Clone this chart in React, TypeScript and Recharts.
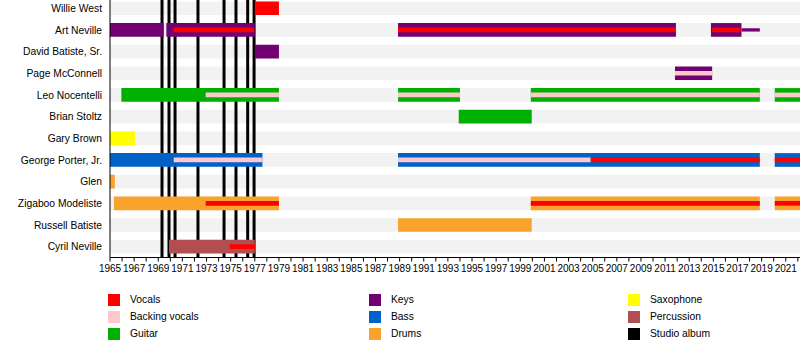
import { ComposedChart, XAxis, YAxis, ReferenceArea, ReferenceLine } from 'recharts';

const members = [
  'Willie West',
  'Art Neville',
  'David Batiste, Sr.',
  'Page McConnell',
  'Leo Nocentelli',
  'Brian Stoltz',
  'Gary Brown',
  'George Porter, Jr.',
  'Glen',
  'Zigaboo Modeliste',
  'Russell Batiste',
  'Cyril Neville',
];

const roleColors: Record<string, string> = {
  vocals: '#ff0000',
  backing: '#ffc8cc',
  guitar: '#00b000',
  keys: '#720072',
  bass: '#0062c8',
  drums: '#f9a22c',
  saxophone: '#ffff00',
  percussion: '#b04e52',
  album: '#000000',
};

const legendColumns = [
  [['vocals', 'Vocals'], ['backing', 'Backing vocals'], ['guitar', 'Guitar']],
  [['keys', 'Keys'], ['bass', 'Bass'], ['drums', 'Drums']],
  [['saxophone', 'Saxophone'], ['percussion', 'Percussion'], ['album', 'Studio album']],
];

const START = 1965;
const END = 2022.18;

// [member, role, from, to]
const mainBars: [string, string, number, number][] = [
  ['Willie West', 'vocals', 1977, 1979],
  ['Art Neville', 'keys', 1965, 1969.45],
  ['Art Neville', 'keys', 1969.67, 1977],
  ['Art Neville', 'keys', 1988.87, 2011.9],
  ['Art Neville', 'keys', 2014.8, 2017.33],
  ['David Batiste, Sr.', 'keys', 1977, 1979],
  ['Page McConnell', 'keys', 2011.82, 2014.9],
  ['Leo Nocentelli', 'guitar', 1965.94, 1979],
  ['Leo Nocentelli', 'guitar', 1988.87, 1994],
  ['Leo Nocentelli', 'guitar', 1999.87, 2018.85],
  ['Leo Nocentelli', 'guitar', 2020.09, END],
  ['Brian Stoltz', 'guitar', 1993.9, 1999.95],
  ['Gary Brown', 'saxophone', 1965, 1967.07],
  ['George Porter, Jr.', 'bass', 1965, 1977.63],
  ['George Porter, Jr.', 'bass', 1988.87, 2018.85],
  ['George Porter, Jr.', 'bass', 2020.09, END],
  ['Glen', 'drums', 1965, 1965.4],
  ['Zigaboo Modeliste', 'drums', 1965.33, 1979],
  ['Zigaboo Modeliste', 'drums', 1999.87, 2018.85],
  ['Zigaboo Modeliste', 'drums', 2020.09, END],
  ['Russell Batiste', 'drums', 1988.87, 1999.95],
  ['Cyril Neville', 'percussion', 1969.89, 1977],
];

// secondary roles, drawn as a thin strip through the middle of the bar
const stripBars: [string, string, number, number][] = [
  ['Art Neville', 'vocals', 1970.28, 1976.94],
  ['Art Neville', 'vocals', 1988.87, 2011.9],
  ['Art Neville', 'vocals', 2014.9, 2017.25],
  ['Page McConnell', 'backing', 2011.82, 2014.9],
  ['Leo Nocentelli', 'backing', 1972.93, 1979],
  ['Leo Nocentelli', 'backing', 1988.87, 1994],
  ['Leo Nocentelli', 'backing', 1999.87, 2018.85],
  ['Leo Nocentelli', 'backing', 2020.09, END],
  ['George Porter, Jr.', 'backing', 1970.28, 1977.63],
  ['George Porter, Jr.', 'backing', 1988.87, 2004.84],
  ['George Porter, Jr.', 'vocals', 2004.84, 2018.85],
  ['George Porter, Jr.', 'vocals', 2020.09, END],
  ['Zigaboo Modeliste', 'vocals', 1972.93, 1979],
  ['Zigaboo Modeliste', 'vocals', 1999.87, 2018.85],
  ['Zigaboo Modeliste', 'vocals', 2020.09, END],
  ['Cyril Neville', 'vocals', 1974.92, 1977],
];

const thinBars: [string, string, number, number][] = [
  ['Art Neville', 'keys', 2017.33, 2018.85],
];

const albums = [1969.31, 1969.89, 1970.39, 1972.29, 1974.45, 1975.44, 1976.41, 1976.94];

const tickYears = Array.from({ length: 2022 - 1965 + 1 }, (_, i) => 1965 + i);

const rows = members.map((name, i) => ({ name, row: i }));

const MAIN_H = 0.316;
const STRIP_H = 0.108;
const THIN_H = 0.076;

const font = '"Liberation Sans", Arial, sans-serif';

// the page comes with the default 8px body margin
document.body.style.margin = '0';
document.documentElement.style.overflow = 'hidden';

const YearTick = ({ x, y, payload }: any) => {
  const year = payload.value;
  if (year % 2 === 0) return null;
  return (
    <text x={x} y={y} dy={8} textAnchor="middle" fontSize={10} fill="#000" fontFamily={font}>
      {year}
    </text>
  );
};

const MemberTick = ({ x, y, payload }: any) => (
  <text x={x} y={y} dy={3.6} textAnchor="end" fontSize={10.3} fill="#000" fontFamily={font}>
    {members[payload.value] ?? ''}
  </text>
);

const App = () => {
  const rowOf = (name: string) => members.indexOf(name);

  const drawBars = (list: [string, string, number, number][], half: number, z: number, key: string) =>
    list.map(([m, role, from, to], i) => (
      <ReferenceArea
        key={`${key}-${i}`}
        x1={from}
        x2={to}
        y1={rowOf(m) - half}
        y2={rowOf(m) + half}
        fill={roleColors[role]}
        fillOpacity={1}
        stroke="none"
        ifOverflow="visible"
        zIndex={z}
      />
    ));

  return (
    <div style={{ position: 'relative', width: 800, height: 353, fontFamily: font, background: '#fff', overflow: 'hidden' }}>
      <ComposedChart width={800} height={353} data={rows} margin={{ top: 0, right: 0, bottom: 65.5, left: 0 }}>
        <XAxis
          type="number"
          dataKey="row"
          domain={[START, END]}
          ticks={tickYears}
          interval={0}
          allowDataOverflow
          tick={<YearTick />}
          tickSize={4}
          stroke="#000"
          height={30}
        />
        <YAxis
          type="number"
          dataKey="row"
          domain={[-0.38, 11.5]}
          reversed
          ticks={members.map((_, i) => i)}
          interval={0}
          allowDataOverflow
          tick={<MemberTick />}
          tickLine={false}
          stroke="#000"
          width={110}
        />
        {members.map((m, i) => (
          <ReferenceArea
            key={`band-${m}`}
            x1={START}
            x2={END}
            y1={i - MAIN_H}
            y2={i + MAIN_H}
            fill="#f2f2f2"
            fillOpacity={1}
            stroke="none"
            ifOverflow="visible"
            zIndex={1}
          />
        ))}
        {albums.map((a) => (
          <ReferenceLine key={`album-${a}`} x={a} stroke="#000" strokeWidth={3} ifOverflow="visible" zIndex={2} />
        ))}
        {drawBars(mainBars, MAIN_H, 3, 'main')}
        {drawBars(thinBars, THIN_H, 3, 'thin')}
        {drawBars(stripBars, STRIP_H, 4, 'strip')}
      </ComposedChart>

      {legendColumns.map((col, c) =>
        col.map(([role, label], r) => (
          <div
            key={role}
            style={{
              position: 'absolute',
              left: [108, 369, 628][c],
              top: 294 + r * 17,
              display: 'flex',
              alignItems: 'center',
              fontSize: 10.3,
              lineHeight: '12px',
              color: '#000',
            }}
          >
            <span style={{ width: 12, height: 12, background: roleColors[role], display: 'inline-block' }} />
            <span style={{ marginLeft: 10 }}>{label}</span>
          </div>
        ))
      )}
    </div>
  );
};

export default App;
